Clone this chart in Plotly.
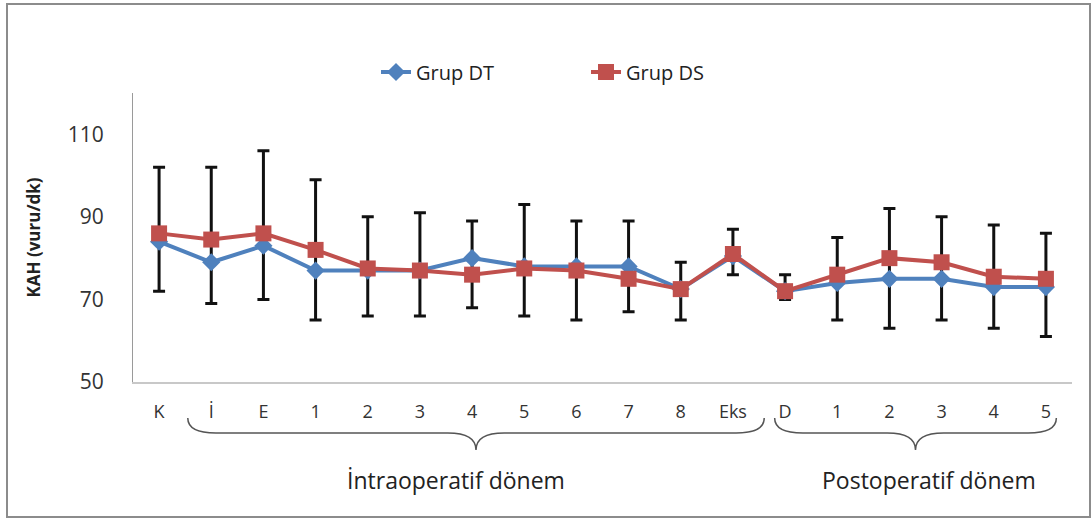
import plotly.graph_objects as go

# ---- data ----
tick_labels = ["K", "İ", "E", "1", "2", "3", "4", "5", "6", "7", "8", "Eks",
               "D", "1", "2", "3", "4", "5"]
grup_dt = [84, 79, 83, 77, 77, 77, 80, 78, 78, 78, 72.5, 80.5, 72, 74, 75, 75, 73, 73]
grup_ds = [86, 84.5, 86, 82, 77.5, 77, 76, 77.5, 77, 75, 72.5, 81, 72, 76, 80, 79, 75.5, 75]
err_upper = [102, 102, 106, 99, 90, 91, 89, 93, 89, 89, 79, 87, 76, 85, 92, 90, 88, 86]
err_lower = [72, 69, 70, 65, 66, 66, 68, 66, 65, 67, 65, 76, 70, 65, 63, 65, 63, 61]
period_names = ["İntraoperatif dönem", "Postoperatif dönem"]
period_start = [0.55, 11.8]
period_end = [11.6, 17.2]
period_label_x = [5.7, 14.75]

x = list(range(len(tick_labels)))
n = len(x)
BLUE = "#4F81BD"
RED = "#C0504D"
FONT = "Open Sans"

W, H = 1092, 521
ML, MT = 133, 93
MR = W - 1072
MB = H - 382
PW, PH = W - ML - MR, H - MT - MB

fig = go.Figure()

# error bars (black), drawn beneath the series
fig.add_trace(go.Scatter(
    x=x, y=grup_ds, mode="markers",
    marker=dict(size=1, color="rgba(0,0,0,0)"),
    error_y=dict(type="data", symmetric=False,
                 array=[u - m for u, m in zip(err_upper, grup_ds)],
                 arrayminus=[m - l for m, l in zip(grup_ds, err_lower)],
                 color="#111111", thickness=3, width=6),
    showlegend=False, hoverinfo="skip"))

fig.add_trace(go.Scatter(
    x=x, y=grup_dt, mode="lines+markers", name="Grup DT",
    line=dict(color=BLUE, width=4),
    marker=dict(symbol="diamond", size=14, color=BLUE)))

fig.add_trace(go.Scatter(
    x=x, y=grup_ds, mode="lines+markers", name="Grup DS",
    line=dict(color=RED, width=4),
    marker=dict(symbol="square", size=16, color=RED)))

x_lo, x_hi = -0.5, n - 0.5


def to_paper(v):
    return (v - x_lo) / (x_hi - x_lo)


def px_x(p):
    return (p - ML) / PW


def px_y(p):
    return (H - MB - p) / PH


# curly braces under the x axis
y_top, y_mid, y_bot = px_y(418), px_y(433), px_y(450)
shapes = []
for s, e in zip(period_start, period_end):
    x0, x1 = to_paper(s), to_paper(e)
    xm = (x0 + x1) / 2
    d = 0.03
    path = (f"M {x0},{y_top} Q {x0},{y_mid} {x0 + d},{y_mid} "
            f"L {xm - d},{y_mid} Q {xm},{y_mid} {xm},{y_bot} "
            f"Q {xm},{y_mid} {xm + d},{y_mid} "
            f"L {x1 - d},{y_mid} Q {x1},{y_mid} {x1},{y_top}")
    shapes.append(dict(type="path", path=path, xref="paper", yref="paper",
                       line=dict(color="#555555", width=1.5)))

# outer frame
shapes.append(dict(type="rect", xref="paper", yref="paper",
                   x0=px_x(7), x1=px_x(1090), y0=px_y(517), y1=px_y(4),
                   line=dict(color="#8c8c8c", width=2), layer="below"))

annotations = []
for name, lx in zip(period_names, period_label_x):
    annotations.append(dict(text=name, x=to_paper(lx), y=px_y(480), xref="paper", yref="paper",
                            showarrow=False, xanchor="center", yanchor="middle",
                            font=dict(family=FONT, size=23, color="#222222")))

fig.update_layout(
    width=W, height=H,
    margin=dict(l=ML, r=MR, t=MT, b=MB, autoexpand=False),
    paper_bgcolor="white", plot_bgcolor="white",
    font=dict(family=FONT, color="#222222"),
    shapes=shapes, annotations=annotations,
    legend=dict(orientation="h", x=px_x(376), xanchor="left", y=px_y(72), yanchor="middle",
                font=dict(family=FONT, size=20, color="#222222"),
                entrywidth=165, bgcolor="rgba(0,0,0,0)"),
    xaxis=dict(range=[x_lo, x_hi], tickmode="array", tickvals=x, ticktext=tick_labels,
               showgrid=False, zeroline=False, showline=True, linecolor="#c8c8c8",
               linewidth=2, ticks="", tickfont=dict(family=FONT, size=18, color="#333333"),
               ticklabelstandoff=12, automargin=False),
    yaxis=dict(range=[50, 120], tickvals=[50, 70, 90, 110], showgrid=False, zeroline=False,
               showline=True, linecolor="#9a9a9a", linewidth=1, ticks="", automargin=False,
               tickfont=dict(family=FONT, size=21, color="#333333"), ticklabelstandoff=24,
               title=dict(text="<b>KAH (vuru/dk)</b>", standoff=22,
                          font=dict(family=FONT, size=17, color="#222222"))),
)

fig.write_html("out.html", config={"displayModeBar": False},
               post_script="document.body.style.margin='0px';")
